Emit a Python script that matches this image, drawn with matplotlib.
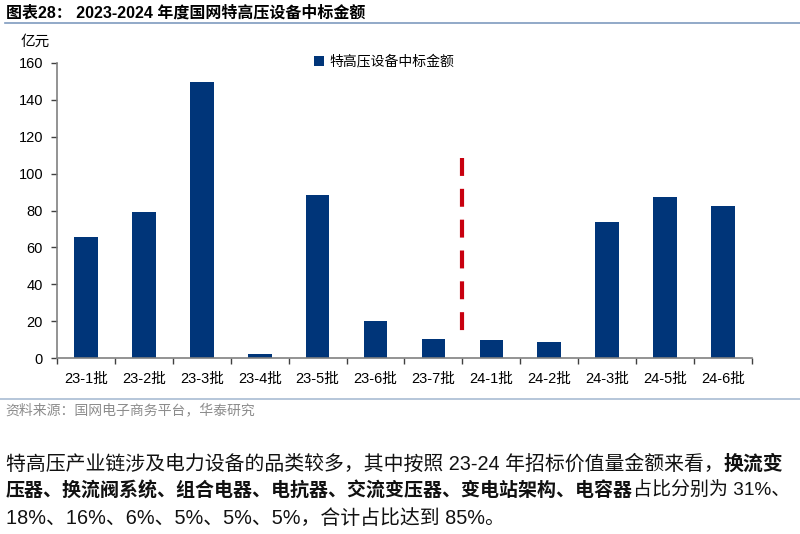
import matplotlib
matplotlib.use("Agg")
import matplotlib.pyplot as plt
import numpy as np

plt.rcParams["font.family"] = ["Liberation Sans", "Noto Sans CJK SC"]

# data
categories = ["23-1批", "23-2批", "23-3批", "23-4批", "23-5批", "23-6批",
              "23-7批", "24-1批", "24-2批", "24-3批", "24-5批", "24-6批"]
amounts = [65.7, 79.2, 149.5, 2.0, 88.3, 20.2, 10.3, 9.9, 8.6, 73.8, 87.3, 82.3]
yticks = [0, 20, 40, 60, 80, 100, 120, 140, 160]
divider_pos = 6.5          # between 23-7 and 24-1
divider_span = (108.5, 13.5)

title = "图表28： 2023-2024 年度国网特高压设备中标金额"
unit = "亿元"
series_name = "特高压设备中标金额"
source = "资料来源：国网电子商务平台，华泰研究"
paragraph = [
    [("特高压产业链涉及电力设备的品类较多，其中按照 23-24 年招标价值量金额来看，", False),
     ("换流变", True)],
    [("压器、换流阀系统、组合电器、电抗器、交流变压器、变电站架构、电容器", True),
     ("占比分别为 31%、", False)],
    [("18%、16%、6%、5%、5%、5%，合计占比达到 85%。", False)],
]

bar_color = "#003579"
axis_color = "#808080"
fig_w, fig_h = 800, 534

fig = plt.figure(figsize=(8, 5.34), dpi=100)
ax = fig.add_axes([57 / fig_w, 1 - 358 / fig_h, 695 / fig_w, 295 / fig_h])

x = np.arange(len(categories))
ax.bar(x, amounts, width=0.41, color=bar_color, label=series_name, zorder=2)
# drawn top-down so the dash pattern starts at the top like the reference
ax.plot([divider_pos, divider_pos], divider_span, color="#C8000F", linewidth=3,
        linestyle=(0, (4.3, 3.1)), dash_capstyle="butt", zorder=3)

ax.set_xlim(-0.5, len(categories) - 0.5)
ax.set_ylim(0, 160)
ax.set_yticks(yticks)
ax.set_yticklabels([str(v) for v in yticks], fontsize=10.5)
ax.set_xticks(np.arange(len(categories) + 1) - 0.5)
ax.set_xticklabels([])
ax.set_xticks(x, minor=True)
ax.set_xticklabels(categories, minor=True, fontsize=10.5)
ax.tick_params(axis="x", which="minor", length=0, pad=10)
ax.tick_params(axis="x", which="major", length=4, width=1, color="#404040")
ax.tick_params(axis="y", length=4, width=1, color="#404040", pad=6)

for side in ["top", "right"]:
    ax.spines[side].set_visible(False)
for side in ["left", "bottom"]:
    ax.spines[side].set_color(axis_color)
    ax.spines[side].set_linewidth(1.2)

ax.legend(loc="upper left", bbox_to_anchor=(0.352, 1.07), frameon=False,
          fontsize=10, handlelength=0.7, handleheight=0.7, handletextpad=0.4)

fig.text(21 / fig_w, 1 - 42 / fig_h, unit, fontsize=10.5, va="center")

# header, rules and source
fig.text(6 / fig_w, 1 - 13 / fig_h, title, fontsize=11.5, weight="bold", va="center")
fig.add_artist(plt.Line2D([5 / fig_w, 1], [1 - 23 / fig_h] * 2, color="#7F9BBF", linewidth=1.2))
fig.add_artist(plt.Line2D([0, 1], [1 - 399 / fig_h] * 2, color="#A9BCD3", linewidth=1.2))
fig.text(5 / fig_w, 1 - 410 / fig_h, source, fontsize=10, color="#8C8C8C", va="center")

# paragraph with bold runs; the first two lines are justified to ~790 px
renderer = fig.canvas.get_renderer()
line_y = [464, 491, 518]
base_size = 14.3
max_width = 784


def draw_line(runs, yy, size):
    xx = 6 / fig_w
    drawn = []
    for text, bold in runs:
        t = fig.text(xx, 1 - yy / fig_h, text, fontsize=size, va="center",
                     weight="bold" if bold else "normal", color="#111111")
        drawn.append(t)
        xx += t.get_window_extent(renderer).width / fig.bbox.width
    return drawn, xx * fig_w - 6


for runs, yy in zip(paragraph, line_y):
    drawn, width = draw_line(runs, yy, base_size)
    if width > max_width:
        for t in drawn:
            t.remove()
        draw_line(runs, yy, base_size * max_width / width)

fig.savefig("out.png", dpi=100)
